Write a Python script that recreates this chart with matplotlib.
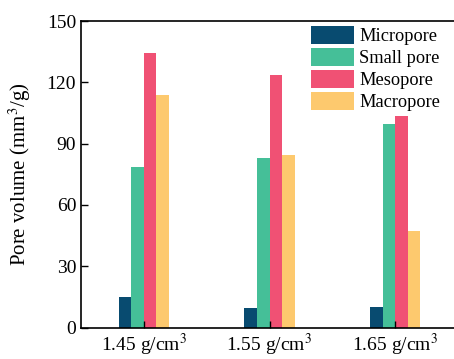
import matplotlib
matplotlib.use("Agg")
import matplotlib.pyplot as plt
import numpy as np

plt.rcParams['font.family'] = ['Liberation Serif', 'DejaVu Serif']
plt.rcParams['mathtext.fontset'] = 'stix'

categories = ['1.45 g/cm$^3$', '1.55 g/cm$^3$', '1.65 g/cm$^3$']
series_names = ['Micropore', 'Small pore', 'Mesopore', 'Macropore']
micropore = [15.1, 9.5, 10.0]
small_pore = [78.7, 83.1, 99.5]
mesopore = [134.2, 123.4, 103.4]
macropore = [113.8, 84.4, 47.2]
colors = ['#084B70', '#45BF98', '#F05174', '#FDC96E']
yticks = [0, 30, 60, 90, 120, 150]

fig = plt.figure(figsize=(4.54, 3.59), dpi=100)
W, H = 454, 359
left, right, top, bottom = 81, 458, 21, 327.5
ax = fig.add_axes([left / W, 1 - bottom / H, (right - left) / W, (bottom - top) / H])

x = np.arange(len(categories))
w = 0.1
data = [micropore, small_pore, mesopore, macropore]
for i, (vals, name, c) in enumerate(zip(data, series_names, colors)):
    ax.bar(x + (i - 1.5) * w, vals, width=w, color=c, label=name, edgecolor='none')

ax.set_xlim(-0.5, 2.5)
ax.set_ylim(0, 150)
ax.set_yticks(yticks)
ax.set_xticks(x)
ax.set_xticklabels(categories)
ax.tick_params(direction='in', labelsize=14, length=5, width=1)
ax.set_ylabel('Pore volume (mm$^3$/g)', fontsize=15, labelpad=10)
for s in ax.spines.values():
    s.set_linewidth(1.2)

leg = ax.legend(loc='upper right', bbox_to_anchor=(444 / W, 1 - 22 / H), bbox_transform=fig.transFigure,
                frameon=False, fontsize=13.2, handlelength=2.35, handleheight=1.15,
                labelspacing=0.15, handletextpad=0.3, borderaxespad=0, borderpad=0.2)

fig.savefig('out.png', dpi=100)
